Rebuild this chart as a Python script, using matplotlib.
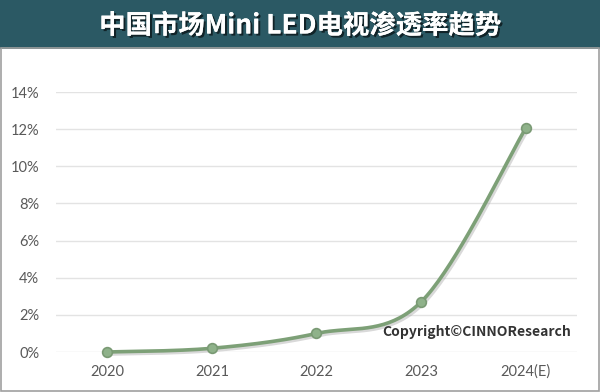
import numpy as np
import matplotlib
matplotlib.use("Agg")
import matplotlib.pyplot as plt
import matplotlib.patheffects as pe
from matplotlib.patches import Rectangle

plt.rcParams['font.family'] = ['Noto Sans CJK SC', 'DejaVu Sans']

years = ["2020", "2021", "2022", "2023", "2024(E)"]
penetration = [0.0, 0.2, 1.0, 2.7, 12.05]
yticks = [0, 2, 4, 6, 8, 10, 12, 14]
title = "中国市场Mini LED电视渗透率趋势"
copyright_text = "Copyright©CINNOResearch"

def smooth(xs, ys, n=40):
    # Excel-like Catmull-Rom bezier smoothing between points
    xs = np.asarray(xs, float); ys = np.asarray(ys, float)
    px, py = [], []
    for i in range(len(xs) - 1):
        x0, y0 = (xs[i-1], ys[i-1]) if i > 0 else (xs[i], ys[i])
        x1, y1 = xs[i], ys[i]
        x2, y2 = xs[i+1], ys[i+1]
        x3, y3 = (xs[i+2], ys[i+2]) if i + 2 < len(xs) else (xs[i+1], ys[i+1])
        c1x, c1y = x1 + (x2 - x0) / 6, y1 + (y2 - y0) / 6
        c2x, c2y = x2 - (x3 - x1) / 6, y2 - (y3 - y1) / 6
        t = np.linspace(0, 1, n)
        bx = (1-t)**3*x1 + 3*(1-t)**2*t*c1x + 3*(1-t)*t**2*c2x + t**3*x2
        by = (1-t)**3*y1 + 3*(1-t)**2*t*c1y + 3*(1-t)*t**2*c2y + t**3*y2
        px.extend(bx); py.extend(by)
    return np.array(px), np.array(py)

fig = plt.figure(figsize=(6.0, 3.92), dpi=100)
fig.patch.set_facecolor("white")

# title band
fig.patches.append(Rectangle((0, 1 - 49/392), 1, 49/392, transform=fig.transFigure,
                             facecolor="#2b5964", edgecolor="none", zorder=0))
fig.text(300/600, 1 - 26/392, title, ha="center", va="center", color="white",
         fontsize=19, fontweight="bold",
         path_effects=[pe.withSimplePatchShadow(offset=(1.5, -1.5), shadow_rgbFace="black", alpha=0.6),
                       pe.Normal()])
# border
fig.patches.append(Rectangle((0.0015, 0.002), 0.997, 1 - 49/392, transform=fig.transFigure,
                             facecolor="none", edgecolor="#a0a0a0", linewidth=1.2, zorder=5))

ax = fig.add_axes([56/600, 1 - 352/392, (577-56)/600, (352-92)/392])
x = np.arange(len(years))
ax.set_xlim(-0.49, 4.49)
ax.set_ylim(0, 14)
ax.set_yticks(yticks)
ax.set_yticklabels([f"{v}%" for v in yticks])
ax.set_xticks(x)
ax.set_xticklabels(years)
ax.grid(axis="y", color="#e3e3e3", linewidth=1.0)
ax.set_axisbelow(True)
for s in ax.spines.values():
    s.set_visible(False)
ax.tick_params(length=0, labelsize=10.5, colors="#595959")
ax.tick_params(axis="y", pad=12)
ax.tick_params(axis="x", pad=9)
for lab in ax.get_xticklabels() + ax.get_yticklabels():
    lab.set_family(["Lato", "DejaVu Sans"])

sx, sy = smooth(x, penetration)
ax.plot(sx, sy, color="#7da077", linewidth=2.6, clip_on=False, zorder=3,
        path_effects=[pe.SimpleLineShadow(offset=(1.2, -1.5), shadow_color="#a0a0a0", alpha=0.4),
                      pe.Normal()])
ax.plot(x, penetration, linestyle="none", marker="o", markersize=7,
        markerfacecolor="#8fb28a", markeredgecolor="#7a9a74", markeredgewidth=1.2,
        clip_on=False, zorder=4)

fig.text(477/600, 1 - 332/392, copyright_text, ha="center", va="center",
         fontsize=10, fontweight="bold", color="#333333")

fig.savefig("out.png", dpi=100)
